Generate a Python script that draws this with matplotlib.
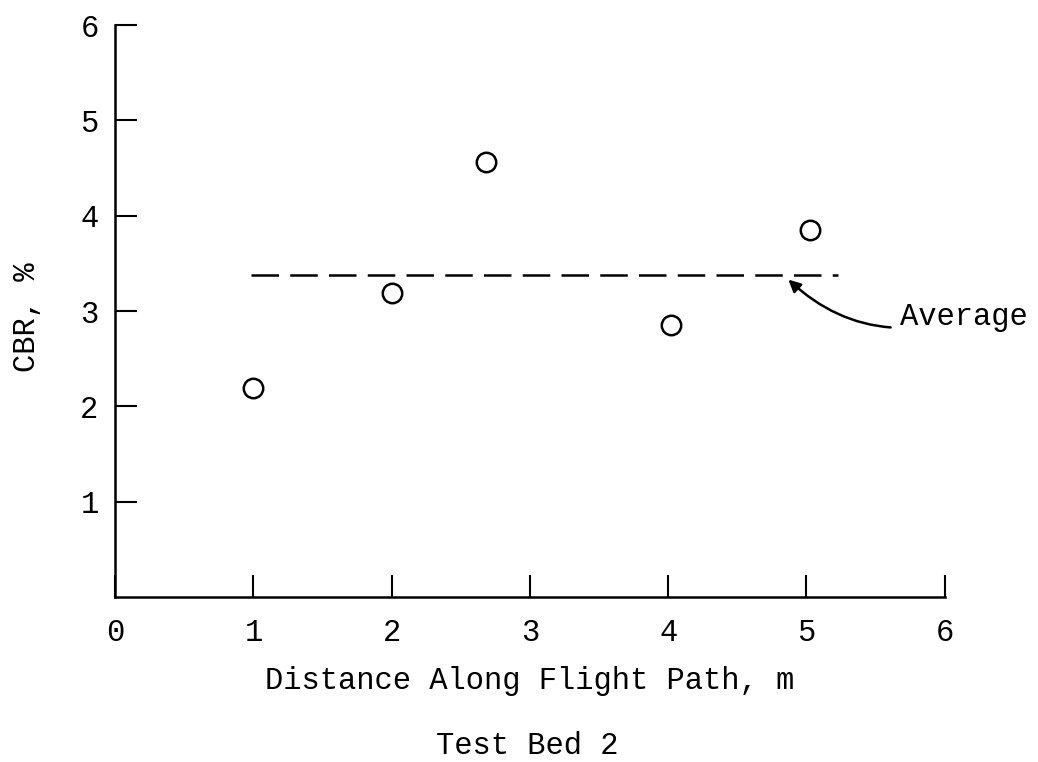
import matplotlib.pyplot as plt

plt.rcParams['font.family'] = ['Liberation Mono', 'DejaVu Sans Mono']
plt.rcParams['font.size'] = 22

# data
distance = [1.0, 2.0, 2.68, 4.02, 5.03]
cbr = [2.19, 3.19, 4.56, 2.85, 3.85]
avg_x = [0.98, 5.23]
avg_cbr = 3.38
x_ticks = [0, 1, 2, 3, 4, 5, 6]
y_ticks = [1, 2, 3, 4, 5, 6]

fig = plt.figure(figsize=(10.38, 7.62), dpi=100)
ax = fig.add_axes([0.111, 0.2165, 0.799, 0.7505])

ax.plot(distance, cbr, 'o', ms=14, mfc='none', mec='black', mew=1.8, clip_on=False)
ax.plot(avg_x, [avg_cbr, avg_cbr], color='black', lw=1.8, dashes=(11, 4.5))

ax.annotate('Average', xy=(4.87, avg_cbr - 0.05), xytext=(5.68, avg_cbr - 0.44),
            va='center', ha='left',
            arrowprops=dict(arrowstyle='-|>', color='black', lw=1.8,
                            mutation_scale=18, shrinkA=5, shrinkB=0,
                            connectionstyle='arc3,rad=-0.3'),
            annotation_clip=False)

ax.set_xlim(0, 6)
ax.set_ylim(0, 6)
ax.set_xticks(x_ticks)
ax.set_yticks(y_ticks)
ax.spines['top'].set_visible(False)
ax.spines['right'].set_visible(False)
for s in ['left', 'bottom']:
    ax.spines[s].set_linewidth(1.8)
ax.tick_params(direction='in', length=16, width=1.5, labelsize=22)
ax.tick_params(axis='x', pad=15)
ax.tick_params(axis='y', pad=12)

ax.set_xlabel('Distance Along Flight Path, m')
ax.xaxis.label.set_verticalalignment('baseline')
ax.xaxis.set_label_coords(0.5, -0.161)
ax.set_ylabel('CBR, %')
ax.yaxis.label.set_verticalalignment('center')
ax.yaxis.set_label_coords(-0.106, 0.49)
fig.text(0.508, 0.011, 'Test Bed 2', ha='center', va='baseline')

plt.savefig('out.png', dpi=100)
